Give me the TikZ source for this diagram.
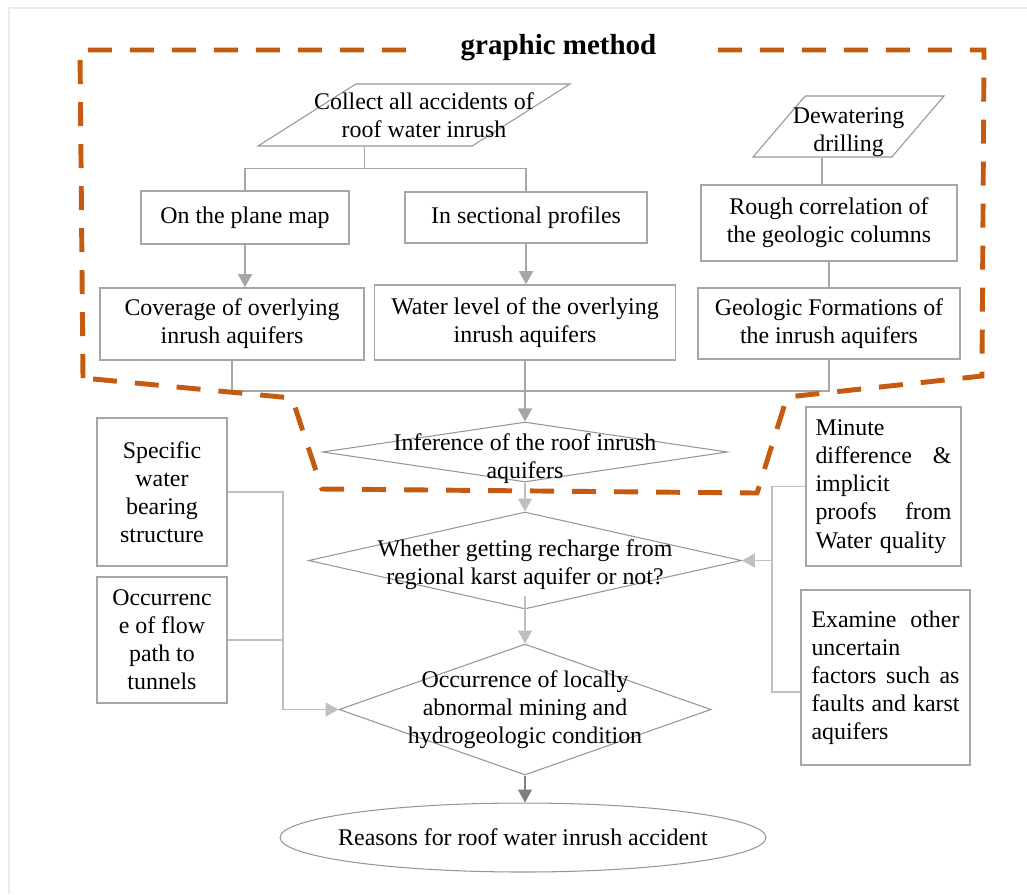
\documentclass[tikz,border=0pt]{standalone}
\usepackage{fontspec}
\setmainfont{Liberation Serif}
\usetikzlibrary{shapes.geometric,arrows.meta}
\definecolor{rim}{RGB}{197,90,17}
\definecolor{boxgray}{RGB}{166,166,166}
\definecolor{linegray}{RGB}{150,150,150}
\definecolor{softgray}{RGB}{191,191,191}
\definecolor{deepgray}{RGB}{127,127,127}
\definecolor{framegray}{RGB}{236,236,236}

\begin{document}
\begin{tikzpicture}[x=0.02cm,y=-0.02cm]
    \tikzstyle{every node}=[font=\fontsize{13.6}{16}\selectfont]
    \tikzstyle{box}=[draw=boxgray,line width=0.9pt,inner sep=0pt,align=center]
    \tikzstyle{dia}=[draw=linegray,line width=0.6pt,diamond,inner sep=0pt]
    \tikzstyle{para}=[draw=linegray,line width=0.6pt,trapezium,trapezium stretches=true,inner sep=1pt]
    \tikzstyle{txt}=[align=center,inner sep=0pt]
    \tikzstyle{link}=[boxgray,line width=0.9pt]
    \tikzstyle{soft}=[softgray,line width=0.9pt]
    \tikzstyle{tip}=[-{Triangle[length=0.26cm,width=0.28cm]}]
    \begin{scope}

       \useasboundingbox (0,0) rectangle (1027,894);
       \draw[framegray,line width=1.2pt] (9,894) -- (9,8) -- (1027,8);

       \node[para,trapezium left angle=50,trapezium right angle=130,minimum width=6.24cm,minimum height=1.24cm,
             label={[txt,xshift=0.2cm]center:{Collect all accidents of\\roof water inrush}}] (collect) at (414,115) {};
       \node[para,trapezium left angle=59,trapezium right angle=121,minimum width=3.82cm,minimum height=1.22cm,
             label={[txt,yshift=-0.11cm]center:{Dewatering\\drilling}}] (dewater) at (848.5,126.5) {};

       \node[box,minimum width=4.16cm,minimum height=1.06cm] (plane) at (245,217.5) {On the plane map};
       \node[box,minimum width=4.84cm,minimum height=1.02cm] (sect) at (526,217.5) {In sectional profiles};
       \node[box,minimum width=5.12cm,minimum height=1.52cm] (rough) at (829,223) {Rough correlation of\\the geologic columns};

       \node[box,minimum width=5.28cm,minimum height=1.44cm] (cover) at (232,324) {Coverage of overlying\\inrush aquifers};
       \node[box,minimum width=6.02cm,minimum height=1.5cm] (level) at (525,322.5) {Water level of the overlying\\inrush aquifers};
       \node[box,minimum width=5.24cm,minimum height=1.42cm] (geo) at (829,323.5) {Geologic Formations of\\the inrush aquifers};

       \node[dia,minimum width=8.1cm,minimum height=1.2cm,
             label={[txt,yshift=-0.14cm]center:{Inference of the roof inrush\\aquifers}}] (infer) at (525,452) {};
       \node[dia,minimum width=8.66cm,minimum height=1.94cm,
             label={[txt,yshift=-0.08cm]center:{Whether getting recharge from\\regional karst aquifer or not?}}] (recharge) at (525,560.5) {};
       \node[dia,minimum width=7.44cm,minimum height=2.62cm,
             label={[txt]center:{Occurrence of locally\\abnormal mining and\\hydrogeologic condition}}] (abnorm) at (525,709.5) {};
       \node[ellipse,draw=linegray,line width=0.6pt,minimum width=9.72cm,minimum height=1.38cm,inner sep=0pt,
             label={[txt]center:{Reasons for roof water inrush accident}}] (reason) at (523,837.5) {};

       \node[box,minimum width=2.6cm,minimum height=2.96cm] (spec) at (162,492) {Specific\\water\\bearing\\structure};
       \node[box,minimum width=2.6cm,minimum height=2.52cm] (occ) at (162,640) {Occurrenc\\e of flow\\path to\\tunnels};
       \node[box,minimum width=3.1cm,minimum height=3.18cm,text width=2.72cm,align=left] (minute) at (883.5,486.5)
             {Minute\\difference\hfill\&\\implicit\\proofs\hfill from\\Water quality};
       \node[box,minimum width=3.38cm,minimum height=3.5cm,text width=2.96cm,align=left] (exam) at (885.5,677.5)
             {Examine\hfill other\\uncertain\\factors\hfill such\hfill as\\faults\hfill and\hfill karst\\aquifers};

       \coordinate (jn1) at ([yshift=-0.44cm]collect.bottom side);
       \draw[link] (collect.bottom side) -- (jn1);
       \draw[link] (plane.north) |- (jn1) -| (sect.north);
       \draw[link,tip] (plane.south) -- (plane.south |- cover.north);
       \draw[link,tip] (sect.south) -- (sect.south |- level.north);
       \draw[link] (dewater.bottom side) -- (dewater.bottom side |- rough.north);
       \draw[link] (rough.south) -- (geo.north);

       \coordinate (jn2) at (525,391);
       \draw[link] (cover.south) |- (jn2);
       \draw[link] (geo.south) |- (jn2);
       \draw[link,tip] (level.south) -- (infer.north);
       \draw[soft,tip] (infer.south) -- (recharge.north);
       \draw[soft,tip] ([yshift=0.28cm]recharge.south) -- (abnorm.north);
       \draw[deepgray,line width=1.1pt,tip] (abnorm.south) -- (abnorm.south |- reason.north);

       \coordinate (jl) at (283,709.5);
       \draw[soft,tip] (spec.east) -| (jl) -- (abnorm.west);
       \draw[soft] (occ.east) -- (occ.east -| jl);
       \coordinate (jr) at (772,560.5);
       \draw[soft,tip] (minute.west) -| (jr) -- (recharge.east);
       \draw[soft] ([yshift=-0.29cm]exam.west) -| (jr);

       \draw[rim,line width=2.8pt,dash pattern=on 0.48cm off 0.36cm]
             (83,378) -- (80,50) -- (984,50) -- (982,376) -- (787,397) -- (757,493) -- (322,489) -- (292,398) -- cycle;
       \node[font=\fontsize{16.5}{19}\selectfont\bfseries,fill=white,inner xsep=1.1cm,inner ysep=2pt] (title) at (558.5,48) {graphic method};

    \end{scope}
\end{tikzpicture}
\end{document}
